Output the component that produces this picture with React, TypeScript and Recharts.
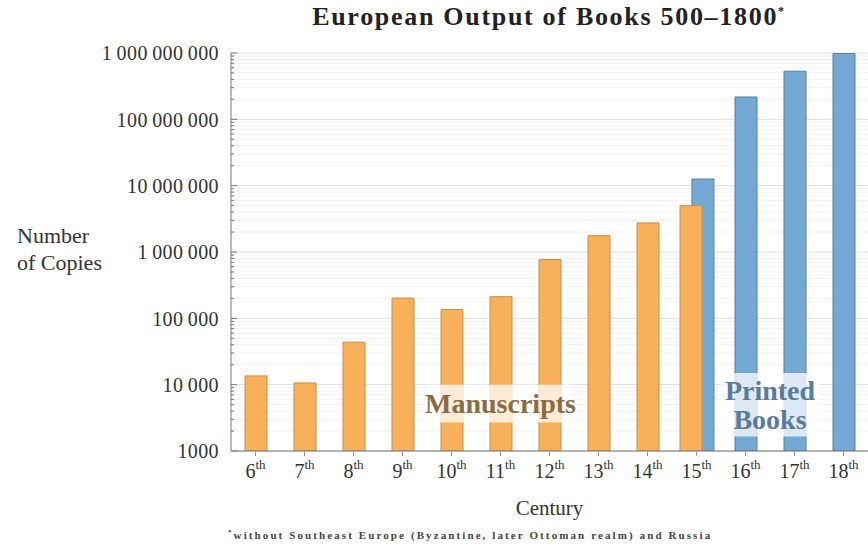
import React from 'react';
import {
    BarChart,
    Bar,
    XAxis,
    YAxis,
    CartesianGrid,
    ReferenceArea,
    Rectangle,
} from 'recharts';

const centuries = ['6', '7', '8', '9', '10', '11', '12', '13', '14', '15', '16', '17', '18'];
const manuscripts = [13552, 10639, 43702, 201742, 135637, 212030, 768721, 1761951, 2746951, 4999161, null, null, null];
const printedBooks = [null, null, null, null, null, null, null, null, null, 12589000, 217444000, 531941000, 983874000];
const majorTicks = [1000, 10000, 100000, 1000000, 10000000, 100000000, 1000000000];
const minorSteps = [2, 3, 4, 5, 6, 7, 8, 9];

const minorTicks = majorTicks.slice(0, -1).flatMap((d) => minorSteps.map((k) => k * d));
const allTicks = [...majorTicks, ...minorTicks].sort((a, b) => a - b);

const data = centuries.map((c, i) => ({
    century: c,
    manuscripts: manuscripts[i],
    printed: printedBooks[i],
}));

const FONT = '"Liberation Serif", "DejaVu Serif", serif';
const ORANGE = '#f8b05b';
const BLUE = '#74a9d4';

// four-digit numbers stay ungrouped, like siunitx does
const fmt = (v: number) => (v < 10000 ? String(v) : v.toLocaleString('en-US').replace(/,/g, '\u2009'));

const YTick: React.FC<any> = ({ x, y, payload }) => {
    const isMajor = majorTicks.includes(payload.value);
    return (
        <g>
            <line x1={x} x2={x + (isMajor ? 6 : 3)} y1={y} y2={y} stroke="#777" strokeWidth={1} />
            {isMajor && (
                <text
                    x={x - 12}
                    y={y}
                    dy="0.36em"
                    textAnchor="end"
                    fontSize={20}
                    letterSpacing={0.4}
                    fill="#333"
                    fontFamily={FONT}
                >
                    {fmt(payload.value)}
                </text>
            )}
        </g>
    );
};

const XTick: React.FC<any> = ({ x, y, payload }) => (
    <text x={x} y={y} dy={20} textAnchor="middle" fontSize={20} fill="#333" fontFamily={FONT}>
        {payload.value}
        <tspan fontSize={13} dy={-9}>th</tspan>
    </text>
);

// where both series exist in one century, nudge the two bars apart
const overlapShape = (side: number) => (props: any) => {
    const { payload, x, width } = props;
    const both = payload.manuscripts != null && payload.printed != null;
    const shift = both ? side * width * 0.27 : 0;
    return <Rectangle {...props} x={x + shift} />;
};

const PrintedLabel: React.FC<any> = ({ viewBox }) => {
    const cx = viewBox.x + viewBox.width / 2;
    const cy = viewBox.y + viewBox.height / 2;
    return (
        <text x={cx} y={cy} textAnchor="middle" fontSize={28} fontWeight="bold" fill="#5a7b9e" fontFamily={FONT}>
            <tspan x={cx} dy={-5}>Printed</tspan>
            <tspan x={cx} dy={29}>Books</tspan>
        </text>
    );
};

export default function App() {
    return (
        <div style={{ position: 'absolute', left: 0, top: 0, width: 868, height: 549, background: '#fff', fontFamily: FONT }}>
            <div
                style={{
                    position: 'absolute',
                    left: 230,
                    width: 638,
                    top: 2,
                    textAlign: 'center',
                    fontSize: 26,
                    fontWeight: 'bold',
                    letterSpacing: 1.7,
                    color: '#222',
                }}
            >
                European Output of Books 500–1800<sup style={{ fontSize: 12 }}>*</sup>
            </div>
            <div style={{ position: 'absolute', left: 17, top: 222, fontSize: 22, lineHeight: '27px', color: '#333' }}>
                Number
                <br />
                of Copies
            </div>
            <div
                style={{
                    position: 'absolute',
                    left: 228,
                    top: 528,
                    fontSize: 11,
                    fontWeight: 'bold',
                    letterSpacing: 2.1,
                    color: '#444',
                }}
            >
                <sup style={{ fontSize: 7 }}>*</sup>without Southeast Europe (Byzantine, later Ottoman realm) and Russia
            </div>
            <BarChart width={868} height={549} data={data} margin={{ top: 53, right: 0, left: 0, bottom: 38 }}>
                <CartesianGrid xAxisId="m" vertical={false} horizontalValues={minorTicks} stroke="#f1f1f1" />
                <CartesianGrid xAxisId="m" vertical={false} horizontalValues={majorTicks} stroke="#dedede" />
                <XAxis
                    xAxisId="m"
                    dataKey="century"
                    height={60}
                    interval={0}
                    tick={<XTick />}
                    tickSize={5}
                    tickMargin={2}
                    tickLine={{ stroke: '#999' }}
                    axisLine={{ stroke: '#777' }}
                    label={{ value: 'Century', position: 'insideBottom', offset: -4, fontSize: 21, fill: '#333', fontFamily: FONT }}
                />
                <XAxis xAxisId="p" dataKey="century" hide />
                <YAxis
                    scale="log"
                    domain={[1000, 1000000000]}
                    allowDataOverflow
                    ticks={allTicks}
                    interval={0}
                    width={231}
                    tick={<YTick />}
                    tickLine={false}
                    tickSize={0}
                    tickMargin={0}
                    axisLine={{ stroke: '#777' }}
                />
                <Bar
                    xAxisId="p"
                    dataKey="printed"
                    barSize={22}
                    fill={BLUE}
                    stroke="#55809f"
                    strokeWidth={1}
                    shape={overlapShape(1)}
                    isAnimationActive={false}
                />
                <Bar
                    xAxisId="m"
                    dataKey="manuscripts"
                    barSize={22}
                    fill={ORANGE}
                    stroke="#c98d48"
                    strokeWidth={1}
                    shape={overlapShape(-1)}
                    isAnimationActive={false}
                />
                <ReferenceArea
                    xAxisId="m"
                    x1="10"
                    x2="12"
                    y1={2700}
                    y2={10000}
                    fill="#fff"
                    fillOpacity={0.75}
                    stroke="none"
                    zIndex={350}
                    label={{
                        value: 'Manuscripts',
                        position: 'center',
                        fontSize: 28,
                        fontWeight: 'bold',
                        fill: '#8a6c44',
                        fontFamily: FONT,
                    }}
                />
                <ReferenceArea
                    xAxisId="m"
                    x1="16"
                    x2="17"
                    y1={1650}
                    y2={15000}
                    fill="#fff"
                    fillOpacity={0.75}
                    stroke="none"
                    zIndex={350}
                    label={<PrintedLabel />}
                />
            </BarChart>
        </div>
    );
}
